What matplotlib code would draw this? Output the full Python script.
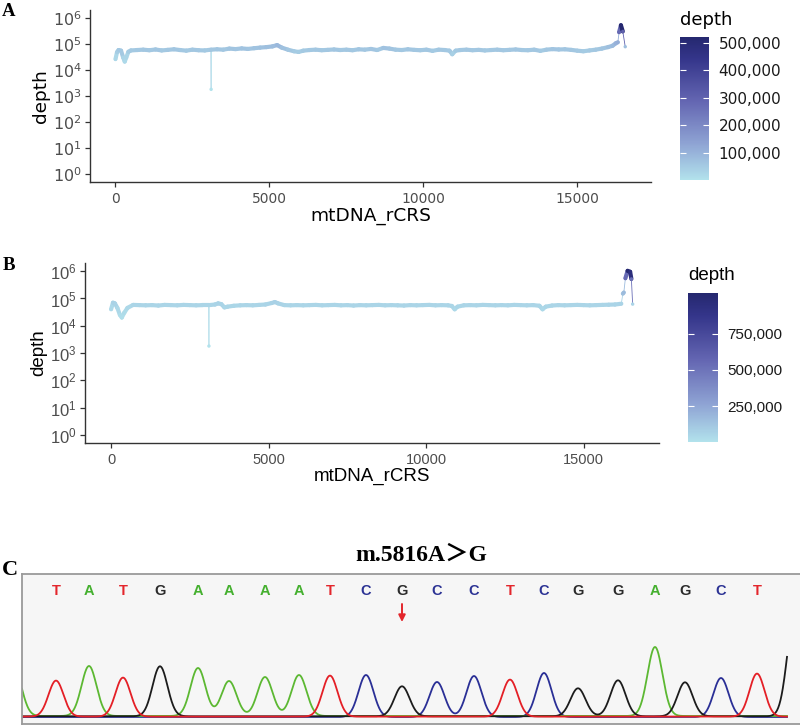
import matplotlib
matplotlib.use("Agg")
import matplotlib.pyplot as plt
import numpy as np
from matplotlib.collections import LineCollection
from matplotlib.colors import LinearSegmentedColormap, Normalize
from matplotlib.cm import ScalarMappable
from matplotlib.ticker import FuncFormatter, NullLocator

# --- A: sequencing depth along rCRS, sample 1 ---
pos_a = [0, 50, 100, 180, 250, 300, 350, 420, 500, 700, 900, 1100, 1300, 1500,
         1700, 1900, 2100, 2300, 2500, 2700, 2900, 3100, 3107, 3114, 3300, 3500,
         3700, 3900, 4100, 4300, 4500, 4700, 4900, 5100, 5250, 5400, 5600, 5800,
         5950, 6100, 6300, 6500, 6700, 6900, 7100, 7300, 7500, 7700, 7900, 8100,
         8300, 8500, 8700, 8900, 9100, 9300, 9500, 9700, 9900, 10100, 10300,
         10500, 10700, 10850, 10940, 11050, 11200, 11400, 11600, 11800, 12000,
         12200, 12400, 12600, 12800, 13000, 13200, 13400, 13600, 13800, 14000,
         14200, 14400, 14600, 14800, 15000, 15200, 15400, 15600, 15800, 16000,
         16150, 16250, 16320, 16360, 16420, 16480, 16560]
depth_a = [26000, 48000, 58000, 55000, 30000, 21000, 30000, 50000, 56000, 58000,
           60000, 57000, 61000, 56000, 59000, 62000, 58000, 55000, 60000, 57000,
           56000, 60000, 1800, 60000, 62000, 60000, 66000, 63000, 67000, 64000,
           68000, 72000, 75000, 80000, 90000, 72000, 60000, 52000, 49000, 55000,
           58000, 60000, 57000, 59000, 61000, 58000, 60000, 57000, 62000, 60000,
           64000, 58000, 70000, 66000, 60000, 58000, 62000, 59000, 57000, 60000,
           54000, 60000, 58000, 55000, 40000, 55000, 58000, 60000, 57000, 59000,
           56000, 58000, 60000, 57000, 59000, 61000, 58000, 57000, 60000, 54000,
           60000, 63000, 61000, 62000, 59000, 55000, 52000, 56000, 60000, 66000,
           75000, 85000, 105000, 115000, 280000, 520000, 300000, 78000]

# --- B: sequencing depth along rCRS, sample 2 ---
pos_b = [0, 60, 120, 200, 280, 340, 420, 520, 700, 900, 1100, 1300, 1500, 1700,
         1900, 2100, 2300, 2500, 2700, 2900, 3100, 3107, 3114, 3300, 3400, 3500,
         3600, 3700, 3900, 4100, 4300, 4500, 4700, 4900, 5100, 5200, 5300, 5500,
         5700, 5900, 6100, 6300, 6500, 6700, 6900, 7100, 7300, 7500, 7700, 7900,
         8100, 8300, 8500, 8700, 8900, 9100, 9300, 9500, 9700, 9900, 10100,
         10300, 10500, 10700, 10820, 10910, 11000, 11200, 11400, 11600, 11800,
         12000, 12200, 12400, 12600, 12800, 13000, 13200, 13400, 13600, 13700,
         13800, 14000, 14200, 14400, 14600, 14800, 15000, 15200, 15400, 15600,
         15800, 16000, 16200, 16250, 16280, 16330, 16400, 16480, 16520, 16560]
depth_b = [40000, 70000, 66000, 45000, 25000, 20000, 30000, 45000, 58000, 57000,
           56000, 57000, 55000, 58000, 57000, 56000, 58000, 57000, 56000, 57000,
           57000, 1800, 57000, 60000, 66000, 62000, 47000, 50000, 54000, 56000,
           57000, 56000, 58000, 60000, 68000, 74000, 66000, 57000, 56000, 57000,
           56000, 57000, 58000, 56000, 57000, 58000, 56000, 57000, 55000, 57000,
           56000, 57000, 58000, 56000, 57000, 56000, 55000, 57000, 56000, 57000,
           58000, 56000, 57000, 56000, 53000, 40000, 50000, 56000, 57000, 56000,
           58000, 57000, 56000, 57000, 56000, 58000, 57000, 56000, 57000, 54000,
           40000, 50000, 55000, 57000, 56000, 57000, 58000, 57000, 56000, 57000,
           58000, 59000, 60000, 64000, 150000, 165000, 550000, 1030000, 950000,
           520000, 62000]

x_ticks = [0, 5000, 10000, 15000]
y_ticks = [1e0, 1e1, 1e2, 1e3, 1e4, 1e5, 1e6]
cbar_ticks_a = [100000, 200000, 300000, 400000, 500000]
cbar_ticks_b = [250000, 500000, 750000]

# --- C: Sanger trace around m.5816 ---
bases = list("TATGAAAATCGCCTCGGAGCT")
peak_x = [34, 67, 101, 138, 176, 207, 243, 277, 308, 344, 380, 415, 452, 488,
          522, 556, 596, 633, 663, 699, 735]
peak_h = [36, 50, 39, 50, 48, 35, 39, 41, 41, 42, 30, 35, 41, 37, 44, 28, 36,
          69, 34, 39, 43]
edge_bases = ["A", "G"]
edge_x = [-8, 773]
edge_h = [48, 105]
variant_idx = 10
title_c = "m.5816A\uff1eG"

base_col = {"T": "#e3262c", "A": "#45b02f", "G": "#2b2b2b", "C": "#2c3394"}
trace_col = {"T": "#e41f26", "A": "#5cb832", "G": "#1c1c1c", "C": "#2a2f96"}

W, H = 800, 725
fig = plt.figure(figsize=(8, 7.25), dpi=100)


def box(x0, y0, x1, y1):
    return [x0 / W, 1 - y1 / H, (x1 - x0) / W, (y1 - y0) / H]


cmap = LinearSegmentedColormap.from_list(
    "depth", [(0.0, "#b2e2ec"), (0.25, "#8fa4d4"), (0.55, "#6466b2"),
              (0.85, "#34358a"), (1.0, "#25286f")])


def depth_panel(ax, cax, pos, depth, cticks, fam, fs_x, fs_y, fs_lab, fs_cb):
    pos = np.asarray(pos, float)
    depth = np.asarray(depth, float)
    norm = Normalize(depth.min(), depth.max())
    pts = np.column_stack([pos, depth])
    segs = np.stack([pts[:-1], pts[1:]], axis=1)
    jump = np.maximum(depth[1:] / depth[:-1], depth[:-1] / depth[1:])
    widths = np.where(jump > 2, 0.6, 3.0)
    lc = LineCollection(segs, colors=cmap(norm(depth[:-1])), linewidths=widths,
                        capstyle="round", joinstyle="round")
    ax.add_collection(lc)
    ax.scatter(pos, depth, c=depth, cmap=cmap, norm=norm, s=6, linewidths=0, zorder=3)
    ax.set_yscale("log")
    ax.set_xlim(-828, 17397)
    ax.set_ylim(10 ** -0.3, 10 ** 6.3)
    ax.set_xticks(x_ticks)
    ax.set_yticks(y_ticks)
    ax.set_yticklabels([r"$\mathregular{10^{%d}}$" % round(np.log10(t)) for t in y_ticks])
    ax.yaxis.set_minor_locator(NullLocator())
    for s in ["top", "right"]:
        ax.spines[s].set_visible(False)
    for s in ["left", "bottom"]:
        ax.spines[s].set_color("#333333")
        ax.spines[s].set_linewidth(1.0)
    ax.tick_params(length=3.5, width=0.9, color="#333333", labelcolor="#4d4d4d",
                   labelfontfamily=fam)
    ax.tick_params(axis="x", labelsize=fs_x)
    ax.tick_params(axis="y", labelsize=fs_y, pad=2.5)
    ax.set_xlabel("mtDNA_rCRS", fontsize=fs_lab, family=fam, labelpad=1)
    ax.set_ylabel("depth", fontsize=fs_lab, family=fam, labelpad=2)

    cb = fig.colorbar(ScalarMappable(norm=norm, cmap=cmap), cax=cax, ticks=cticks)
    cb.outline.set_visible(False)
    cax.minorticks_off()
    cax.yaxis.set_major_formatter(FuncFormatter(lambda v, p: f"{v:,.0f}"))
    cax.tick_params(axis="y", direction="in", length=4, width=0.8, color="white",
                    left=True, right=True, labelleft=False, labelright=True,
                    labelsize=fs_cb, labelcolor="#1a1a1a", pad=7,
                    labelfontfamily=fam)


# panel A
ax_a = fig.add_axes(box(90, 10, 651, 182))
cax_a = fig.add_axes(box(680, 37, 709, 180))
depth_panel(ax_a, cax_a, pos_a, depth_a, cbar_ticks_a, "DejaVu Sans",
            10, 11.5, 13.3, 11)
fig.text(680 / W, 1 - 20 / H, "depth", fontsize=13, family="DejaVu Sans",
         ha="left", va="center")

# panel B
ax_b = fig.add_axes(box(85, 263, 659, 443))
cax_b = fig.add_axes(box(688, 293, 718, 442))
depth_panel(ax_b, cax_b, pos_b, depth_b, cbar_ticks_b, "Liberation Sans",
            10.5, 12, 13.5, 11)
fig.text(688 / W, 1 - 276 / H, "depth", fontsize=13.5, family="Liberation Sans",
         ha="left", va="center")

# panel C
ax_c = fig.add_axes(box(22, 574, 803, 724))
ax_c.set_facecolor("#f6f6f6")
for s in ax_c.spines.values():
    s.set_color("#9a9a9a")
    s.set_linewidth(1.3)
ax_c.set_xticks([])
ax_c.set_yticks([])
ax_c.set_xlim(0, 781)
ax_c.set_ylim(-7, 143)

sigma = 7.5
xs = np.linspace(0, 765, 2000)
all_b = bases + edge_bases
all_x = peak_x + edge_x
all_h = peak_h + edge_h
offset = {"T": 0.4, "A": 1.0, "C": 0.0, "G": 0.7}
for ch in ["C", "A", "G", "T"]:
    ys = np.zeros_like(xs) + offset[ch]
    for b, px, ph in zip(all_b, all_x, all_h):
        if b == ch:
            ys += ph * np.exp(-(xs - px) ** 2 / (2 * sigma ** 2))
    ax_c.plot(xs, ys, color=trace_col[ch], lw=1.3, solid_joinstyle="round")

for b, px in zip(bases, peak_x):
    ax_c.text(px, 126, b, color=base_col[b], fontsize=10.5, fontweight="bold",
              family="Liberation Sans", ha="center", va="center")

vx = peak_x[variant_idx]
ax_c.annotate("", xy=(vx, 95), xytext=(vx, 113),
              arrowprops=dict(arrowstyle="-|>", color="#e3262c", lw=1.4,
                              mutation_scale=10, shrinkA=0, shrinkB=0))

fig.text(421 / W, 1 - 555 / H, title_c, fontsize=17, fontweight="bold",
         family=["Liberation Serif", "Noto Sans CJK SC"], ha="center", va="center")

# panel letters
for lab, (lx, ly, fs) in zip("ABC", [(2, 11, 13.5), (3, 265, 13.5), (2, 570, 16)]):
    fig.text(lx / W, 1 - ly / H, lab, fontsize=fs, fontweight="bold",
             family="Liberation Serif", ha="left", va="center")

fig.savefig("out.png", dpi=100, facecolor="white")
